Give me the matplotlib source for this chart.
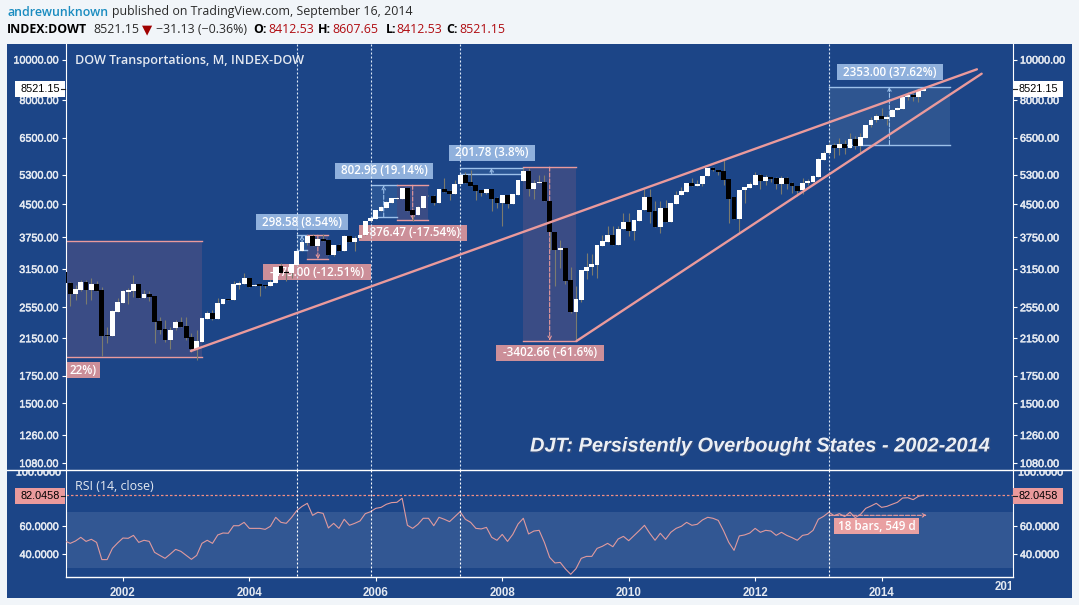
import numpy as np
import matplotlib
matplotlib.use("Agg")
import matplotlib.pyplot as plt
import matplotlib.patheffects as pe
from matplotlib.patches import Rectangle
from matplotlib.ticker import NullLocator
from matplotlib.transforms import Bbox

W, H = 1079, 605
PAGE = "#f1f5f9"
NAVY = "#1c4587"
AXIS_TXT = "#e4e9f1"
PINK = "#ea9a9c"
PINK_LBL = "#cc8f99"
BLUE_LBL = "#8fb0dc"
BLUE_LN = "#9cc0ea"
TICK_SIZE = 7.8

# monthly candles, first bar is Feb 2001, last Sep 2014
opens = [3103,2909,2742,2803,2930,2803,2898,2803,2187,2179,
         2483,2609,2778,2788,2898,2682,2742,2712,2364,2262,
         2127,2272,2350,2300,2162,2024,2105,2385,2470,2385,
         2595,2668,2653,2890,2898,2995,2865,2898,2880,2865,
         2914,3200,3100,3073,3218,3476,3627,3785,3578,3710,
         3695,3400,3596,3476,3780,3650,3735,3800,4100,4150,
         4340,4420,4530,4640,4640,4920,4360,4240,4420,4700,
         4710,4530,4895,4845,4770,5020,5290,5090,5000,4870,
         4790,4895,4660,4530,4735,4500,4735,5120,5406,4890,
         5050,5100,4583,3860,3490,3530,2960,2490,2660,3120,
         3180,3220,3580,3660,3800,3590,3920,4090,3880,4110,
         4350,4680,4330,3980,4420,4080,4500,4730,4820,5060,
         4975,5030,5260,5500,5440,5400,5170,4680,4140,4870,
         4930,5010,5280,5110,5230,5200,5040,5200,5060,4970,
         4865,5050,5100,5240,5760,5960,6240,6140,6270,6140,
         6440,6220,6500,6950,7150,7330,7220,7280,7560,7630,
         8120,8210,8130,8412.53]
closes = [2909,2742,2820,2930,2803,2898,2788,2179,2175,2497,
          2623,2788,2803,2898,2682,2742,2697,2350,2248,2127,
          2248,2350,2285,2150,2024,2116,2398,2470,2385,2609,
          2668,2653,2898,2914,2995,2850,2880,2865,2865,2930,
          3183,3085,3085,3235,3476,3648,3785,3578,3710,3675,
          3400,3596,3476,3780,3650,3735,3800,4103,4170,4360,
          4435,4556,4650,4660,4920,4340,4240,4435,4710,4715,
          4530,4895,4825,4765,5033,5290,5060,4980,4845,4790,
          4895,4630,4530,4735,4500,4765,5144,5406,4890,5050,
          5100,4583,3860,3490,3530,2950,2490,2675,3130,3190,
          3240,3590,3680,3800,3590,3920,4090,3880,4130,4370,
          4680,4310,3980,4420,4080,4520,4735,4840,5060,4970,
          5045,5270,5500,5440,5370,5145,4630,4140,4870,4950,
          5030,5280,5110,5230,5180,5040,5200,5040,4970,4830,
          5057,5110,5250,5770,5970,6240,6140,6270,6140,6440,
          6220,6530,6960,7170,7330,7220,7300,7570,7650,8130,
          8210,8130,8450,8521.15]
highs = [3103,2930,2880,2960,2960,2990,2950,2855,2290,2510,
         2680,2810,2830,3040,2898,2800,2790,2712,2420,2375,
         2290,2375,2420,2420,2207,2248,2398,2500,2510,2680,
         2668,2668,2950,2940,3073,2995,2900,2898,2880,2960,
         3183,3250,3130,3240,3476,3648,3800,3810,3730,3830,
         3700,3596,3620,3800,3780,3780,3800,4103,4170,4360,
         4460,4570,4650,4680,4920,4920,4380,4450,4710,4730,
         4740,4895,5210,4880,5140,5290,5380,5436,5000,4880,
         4895,4895,4680,4735,4735,4765,5144,5500,5500,5140,
         5300,5300,4583,3860,3700,3530,3180,2860,3130,3440,
         3430,3590,3800,4000,4000,4000,4280,4280,4130,4370,
         4900,4900,4580,4580,4600,4520,4850,4960,5060,5200,
         5150,5270,5500,5530,5440,5750,5170,4680,4870,4950,
         5100,5380,5330,5280,5230,5220,5250,5220,5100,4980,
         5200,5160,5300,5800,6030,6300,6320,6500,6400,6650,
         6550,6650,6960,7300,7400,7650,7350,7600,7700,8130,
         8350,8300,8530,8607.65]
lows = [2909,2571,2650,2790,2594,2653,2788,1945,2090,2179,
        2483,2609,2590,2700,2682,2682,2640,2089,2200,2110,
        2025,2248,2285,2130,1990,1905,2105,2385,2375,2385,
        2595,2653,2653,2820,2898,2850,2865,2720,2840,2865,
        2914,3085,2950,3000,3218,3476,3600,3578,3578,3675,
        3400,3380,3476,3476,3650,3480,3735,3800,4100,4150,
        4340,4420,4530,4640,4640,4340,4100,4240,4420,4700,
        4480,4530,4825,4600,4770,5020,5060,4980,4600,4700,
        4750,4340,4400,4000,4400,4500,4735,5120,4700,4640,
        5050,4583,3490,2860,3170,2900,2470,2132,2620,2980,
        3040,3000,3580,3660,3590,3590,3920,3780,3700,4110,
        4350,4050,3980,3840,4080,4080,4500,4730,4820,4970,
        4975,4970,5260,5400,5300,5000,4050,4140,3860,4530,
        4930,5010,4900,5000,5100,4900,4760,4900,4800,4700,
        4760,5000,5100,5240,5760,5960,5820,5900,5950,6140,
        6100,6000,6500,6900,7100,7220,6950,7280,7560,7630,
        8000,7950,7900,8412.53]
rsi = [49.3,47.6,49.3,51.9,49,50.5,48.3,36,36,44,
       47.9,51.4,51.2,53.3,48.3,49.8,49,41.2,39,36.9,
       40,43.3,41.9,39,36.2,39,47.6,49.8,47.6,53.6,
       55,54.8,60.2,60.2,62.6,58.3,58.3,58.3,57.6,59.8,
       66.2,62.6,61.9,66,71,74,76.2,67.6,69.8,69,
       58.6,61.9,58.3,64.8,60.5,61.9,63.6,68.8,70.2,72.6,
       73.3,75.5,76.7,76.9,79.8,60.5,58.3,61.2,65.5,65.5,
       60.2,66.2,64.8,63.1,66.7,70.2,64.8,62.6,58.3,57.9,
       59,51.9,49.8,54,49,54,61.4,65.5,54.3,56.4,
       56.9,48.3,37.6,33.6,34,29.3,25.5,29.5,36.9,38.3,
       38.3,44,45.5,47.6,45.2,50.7,52.6,49.5,53.1,56.7,
       60.5,54.8,49.8,54.8,50.5,55.5,58.3,59.8,62.6,60.5,
       61.2,64.3,66.2,65.5,64,56.7,48.3,42.6,52.9,53.6,
       55,58.3,55.5,56.9,56.4,53.3,55.5,53.3,51.7,49.8,
       53.3,54,56.9,64.8,66.9,69.8,67.4,68.8,66.7,69.8,
       66,68.3,72.6,74.3,76.2,73.3,74,75.5,76.9,80,
       80.2,78.8,81.2,82.0458]

price_ticks = [1080, 1260, 1500, 1750, 2150, 2550, 3150, 3750, 4500, 5300, 6500, 8000, 10000]
rsi_ticks = [40, 60]
year_labels = ["2002", "2004", "2006", "2008", "2010", "2012", "2014"]
year_bars = [11, 35, 59, 83, 107, 131, 155]
event_bars = [44, 58, 75, 145]
last_close = 8521.15
last_rsi = 82.0458

# (first bar, last bar, top, bottom, fill, line colour, dashed arrow tip)
ranges = [
    (0.1, 26, 3668, 1935, "#3a4c85", PINK, None),
    (44, 46, 3795, 3496, "#2a5594", BLUE_LN, "up"),
    (46, 50, 3795, 3320, "#3a4c85", PINK, "down"),
    (58, 63, 4998, 4195, "#2a5594", BLUE_LN, "up"),
    (63, 69, 4998, 4120, "#3a4c85", PINK, "down"),
    (75, 87, 5512, 5310, "#2a5594", BLUE_LN, "up"),
    (87, 97, 5524, 2121, "#3a4c85", PINK, "down"),
    (145, 168, 8608, 6255, "#2e5590", BLUE_LN, "up"),
]
# (first bar, first price, last bar, last price)
trendlines = [(23.9, 2003, 173.1, 9474), (97.1, 2117, 174, 9247)]

fig = plt.figure(figsize=(W / 100, H / 100), dpi=100, facecolor=PAGE)
plt.rcParams["font.family"] = ["Liberation Sans", "DejaVu Sans"]
THICK = [pe.withStroke(linewidth=0.35, foreground=AXIS_TXT)]


def frac(x, y):
    return x / W, 1 - y / H


fig.add_artist(Rectangle(frac(7, 598), 1065 / W, 554 / H, transform=fig.transFigure,
                         facecolor=NAVY, edgecolor="none", zorder=-1))

left, right = 65.5, 1013
ax = fig.add_axes([left / W, 1 - 469.7 / H, (right - left) / W, (469.7 - 44) / H], facecolor=NAVY)
ax_rsi = fig.add_axes([left / W, 1 - 577.3 / H, (right - left) / W, (577.3 - 469.7) / H], facecolor=NAVY)

x = np.arange(len(closes))
o, c, h, l = map(np.array, (opens, closes, highs, lows))

ax.set_yscale("log")
ax.set_xlim(0.1, 179.95)
ax.set_ylim(1041, 10893)
ax.set_yticks(price_ticks, ["%.2f" % t for t in price_ticks])
ax.yaxis.set_minor_locator(NullLocator())
ax.set_xticks([])
ax.tick_params(axis="y", left=True, right=True, labelleft=True, labelright=True,
               colors="white", labelcolor=AXIS_TXT, length=3, width=0.8, pad=2, labelsize=TICK_SIZE)

# measured ranges
for x0, x1, top, bot, fill, line, arrow in ranges:
    ax.fill_between([x0, x1], bot, top, color=fill, lw=0, zorder=1)
    ax.plot([x0, x1], [top, top], color=line, lw=1, zorder=1.5)
    ax.plot([x0, x1], [bot, bot], color=line, lw=1, zorder=1.5)
    if arrow:
        mid = (x0 + x1) / 2
        start, tip = (bot, top) if arrow == "up" else (top, bot)
        ax.annotate("", xy=(mid, tip), xytext=(mid, start), zorder=2.6,
                    arrowprops=dict(arrowstyle="->", ls="--", color=line, lw=0.8,
                                    mutation_scale=6, shrinkA=0, shrinkB=0))

# candles
up = c >= o
ax.vlines(x, l, h, color="#7b7b6e", lw=0.8, zorder=3)
ax.bar(x[up], (c - o)[up], bottom=o[up], width=0.92, color="white", lw=0, zorder=3.2)
ax.bar(x[~up], (o - c)[~up], bottom=c[~up], width=0.92, color="black", lw=0, zorder=3.2)

for x0, y0, x1, y1 in trendlines:
    ax.plot([x0, x1], [y0, y1], color=PINK, lw=1.7, zorder=4, solid_capstyle="round")

# rsi pane
ax_rsi.set_xlim(0.1, 179.95)
ax_rsi.set_ylim(23.36, 100.2)
ax_rsi.axhspan(30, 70, xmin=0.002, color="#325793", lw=0, zorder=1)
ax_rsi.axhline(last_rsi, color="#f08e84", lw=0.9, ls=(0, (2, 1.6)), zorder=2)
ax_rsi.plot(x, rsi, color="#e09a9e", lw=0.8, zorder=3)
ax_rsi.annotate("", xy=(163.6, 67.6), xytext=(145, 67.6), zorder=3,
                arrowprops=dict(arrowstyle="->", ls="--", color=PINK, lw=0.8,
                                mutation_scale=6, shrinkA=0, shrinkB=0))
ax_rsi.set_yticks(rsi_ticks, ["%.4f" % t for t in rsi_ticks])
ax_rsi.set_xticks(year_bars, year_labels)
ax_rsi.tick_params(axis="y", left=True, right=True, labelleft=True, labelright=True,
                   colors="white", labelcolor=AXIS_TXT, length=3, width=0.8, pad=2, labelsize=TICK_SIZE)
ax_rsi.tick_params(axis="x", colors="white", labelcolor=AXIS_TXT, length=3, width=0.8, pad=4)
for lb in ax_rsi.get_xticklabels():
    lb.set_fontsize(8.3)
    lb.set_fontweight("bold")

for a in (ax, ax_rsi):
    a.spines["left"].set_color("white")
    a.spines["right"].set_color("white")
    a.spines["top"].set_visible(False)
    a.spines["bottom"].set_color("white")
    a.spines["bottom"].set_linewidth(1)
    for lb in a.get_yticklabels() + a.yaxis.get_ticklabels(which="major"):
        lb.set_path_effects(THICK)
ax.spines["bottom"].set_visible(False)
fig.add_artist(plt.Line2D([7 / W, 1072 / W], [1 - 469.7 / H] * 2, color="white", lw=1,
                          transform=fig.transFigure))

for b in event_bars:
    ax.axvline(b, color="#dfeaf7", lw=0.8, ls=(0, (1.8, 1.8)), zorder=2.5)
    ax_rsi.axvline(b, ymin=0.015, color="white", lw=0.8, ls=(0, (1.8, 1.8)), zorder=4)


def box_label(a, s, x0, y0, x1, y1, bg, fg="white", z=2.2, size=8.4, family="Open Sans", weight="semibold"):
    a.add_patch(Rectangle(frac(x0, y1), (x1 - x0) / W, (y1 - y0) / H, transform=fig.transFigure,
                          facecolor=bg, edgecolor="none", zorder=z, clip_on=False))
    fx, fy = frac((x0 + x1) / 2, (y0 + y1) / 2)
    a.text(fx, fy, s, transform=fig.transFigure, ha="center", va="center", color=fg,
           fontsize=size, zorder=z + 0.1, clip_on=False, family=family, fontweight=weight)


box_label(ax, "22%)", 66, 362, 100, 378, PINK_LBL)
box_label(ax, "298.58 (8.54%)", 256, 214, 348, 230, BLUE_LBL)
box_label(ax, "-475.00 (-12.51%)", 263, 264, 371, 280, PINK_LBL)
box_label(ax, "802.96 (19.14%)", 335, 163, 433, 179, BLUE_LBL)
box_label(ax, "-876.47 (-17.54%)", 359, 225, 467, 241, PINK_LBL)
box_label(ax, "201.78 (3.8%)", 449, 145, 535, 161, BLUE_LBL)
box_label(ax, "-3402.66 (-61.6%)", 496, 345, 604, 361, PINK_LBL)
box_label(ax, "2353.00 (37.62%)", 837, 64, 943, 80, BLUE_LBL)
box_label(ax_rsi, "18 bars, 549 d", 834, 518, 919, 534, "#e9a0a2", z=5)

# last value flags on both sides, with their small dark tick
for x0, x1, t0, t1 in ((15, 65, 61, 65), (1013, 1063, 1013, 1017)):
    box_label(ax_rsi, "%.2f" % last_close, x0, 81, x1, 97, "white", fg="black", z=6, size=TICK_SIZE,
              family="Liberation Sans", weight="normal")
    box_label(ax_rsi, "%.4f" % last_rsi, x0, 488, x1, 504, PINK, fg="black", z=6, size=TICK_SIZE,
              family="Liberation Sans", weight="normal")
    for ty in (89, 496):
        fig.add_artist(plt.Line2D([t0 / W, t1 / W], [1 - ty / H] * 2, color="#222222", lw=0.8,
                                  transform=fig.transFigure))


def ptext(px, py, s, **kw):
    kw.setdefault("va", "center")
    fx, fy = frac(px, py)
    return fig.text(fx, fy, s, **kw)


# half hidden labels at the pane edges
for px_x, ha in ((61, "right"), (1018, "left")):
    t = ptext(px_x, 472.5, "100.0000", color=AXIS_TXT, fontsize=TICK_SIZE, ha=ha, path_effects=THICK)
    t.set_clip_box(Bbox([[0, 0], [W, H - 470.5]]))
    t.set_clip_on(True)
fx_t = ptext(1008, 587, "2016", color=AXIS_TXT, fontsize=8.3, fontweight="bold", ha="center")
fx_t.set_clip_box(Bbox([[0, 0], [1011, H]]))
fx_t.set_clip_on(True)

ptext(75, 60.5, "DOW Transportations, M, INDEX-DOW", color=AXIS_TXT, fontsize=9.1,
      family="Open Sans", fontweight="semibold")
ptext(75, 486, "RSI (14, close)", color=AXIS_TXT, fontsize=8.9, family="Open Sans")
ptext(530, 446, "DJT: Persistently Overbought States - 2002-2014", color="#eceff4", fontsize=14.4,
      style="italic", fontweight="bold",
      path_effects=[pe.withSimplePatchShadow(offset=(1, -1), shadow_rgbFace="#3b4f7a", alpha=0.8)])

# header lines
DARK = "#2b2b2b"
RED = "#b00d12"
hf = dict(family="Open Sans", fontsize=8.95)
ptext(7, 12, "andrewunknown", color="#1a8cc0", fontweight="semibold", **hf)
ptext(112, 12, "published on TradingView.com, September 16, 2014", color=DARK, **hf)
ptext(7, 29.5, "INDEX:DOWT", color="black", fontweight="bold", **hf)
ptext(93, 29.5, "8521.15", color=DARK, **hf)
ptext(147, 29.5, "\u25bc", color="#a00000", fontsize=9.5, ha="center", family="DejaVu Sans")
ptext(156, 29.5, "\u221231.13 (\u22120.36%)", color=DARK, **hf)
for lab, lx, val, vx in (("O:", 253.5, "8412.53", 268), ("H:", 318, "8607.65", 332),
                         ("L:", 385.7, "8412.53", 396.5), ("C:", 446.7, "8521.15", 459.3)):
    ptext(lx, 29.5, lab, color="black", fontweight="bold", **hf)
    ptext(vx, 29.5, val, color=RED, **hf)

fig.savefig("out.png", dpi=100, facecolor=PAGE)
